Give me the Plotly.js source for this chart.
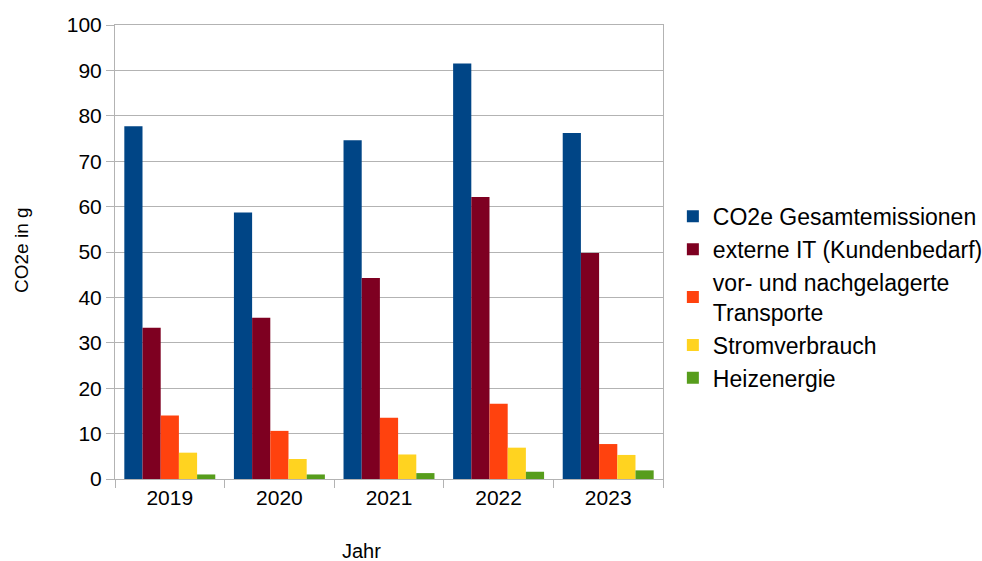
<!DOCTYPE html>
<html>
<head>
<meta charset="utf-8">
<script src="https://cdn.plot.ly/plotly-3.0.1.min.js"></script>
<style>html,body{margin:0;padding:0;background:#fff;}#chart{width:982px;height:561px;}</style>
</head>
<body>
<div id="chart"></div>
<script>
const years = ["2019", "2020", "2021", "2022", "2023"];
const seriesNames = ["CO2e Gesamtemissionen", "externe IT (Kundenbedarf)", "vor- und nachgelagerte<br>Transporte", "Stromverbrauch", "Heizenergie"];
const gesamt = [77.7, 58.7, 74.6, 91.5, 76.2];
const externeIT = [33.3, 35.5, 44.3, 62.1, 49.8];
const transporte = [14.0, 10.6, 13.5, 16.6, 7.7];
const strom = [5.8, 4.4, 5.4, 6.9, 5.3];
const heizung = [1.0, 1.0, 1.3, 1.6, 1.9];
const yTicks = [0, 10, 20, 30, 40, 50, 60, 70, 80, 90, 100];
const colors = ["#004586", "#7e0021", "#ff420e", "#ffd320", "#579d1c"];

const values = [gesamt, externeIT, transporte, strom, heizung];
const data = values.map((v, i) => ({
  type: "bar",
  name: seriesNames[i],
  x: years,
  y: v,
  marker: {color: colors[i], line: {width: 0}}
}));

const font = "Liberation Sans, Arial, sans-serif";
const layout = {
  width: 982, height: 561,
  margin: {l: 115, r: 319, t: 25, b: 82, autoexpand: false},
  paper_bgcolor: "#ffffff",
  plot_bgcolor: "#ffffff",
  barmode: "group",
  bargap: 0.17,
  bargroupgap: 0,
  font: {family: font, size: 21, color: "#000000"},
  showlegend: true,
  legend: {
    x: 1.018, xanchor: "left",
    y: 0.40, yanchor: "middle",
    font: {family: font, size: 23, color: "#000000"},
    tracegroupgap: 0,
    itemwidth: 30,
    bgcolor: "rgba(0,0,0,0)"
  },
  xaxis: {
    type: "category",
    tickson: "boundaries",
    ticks: "outside",
    ticklen: 8,
    tickcolor: "#b3b3b3",
    showline: true,
    linecolor: "#b3b3b3",
    linewidth: 1,
    mirror: true,
    showgrid: false,
    tickfont: {family: font, size: 21, color: "#000000"}
  },
  yaxis: {
    range: [0, 100],
    tickvals: yTicks,
    ticktext: yTicks.map(String),
    ticks: "outside",
    ticklen: 8,
    tickcolor: "#b3b3b3",
    showline: true,
    linecolor: "#b3b3b3",
    linewidth: 1,
    mirror: true,
    showgrid: true,
    gridcolor: "#b3b3b3",
    gridwidth: 1,
    zeroline: false,
    tickfont: {family: font, size: 21, color: "#000000"}
  },
  annotations: [
    {text: "Jahr", xref: "paper", yref: "paper", x: (361 - 115) / 548, y: -(551 - 479) / 454,
     xanchor: "center", yanchor: "middle", showarrow: false, font: {family: font, size: 20, color: "#000000"}},
    {text: "CO2e in g", xref: "paper", yref: "paper", x: -(115 - 22) / 548, y: (479 - 250) / 454,
     xanchor: "center", yanchor: "middle", textangle: -90, showarrow: false, font: {family: font, size: 19, color: "#000000"}}
  ]
};

Plotly.newPlot("chart", data, layout, {displayModeBar: false, staticPlot: true});
</script>
</body>
</html>
